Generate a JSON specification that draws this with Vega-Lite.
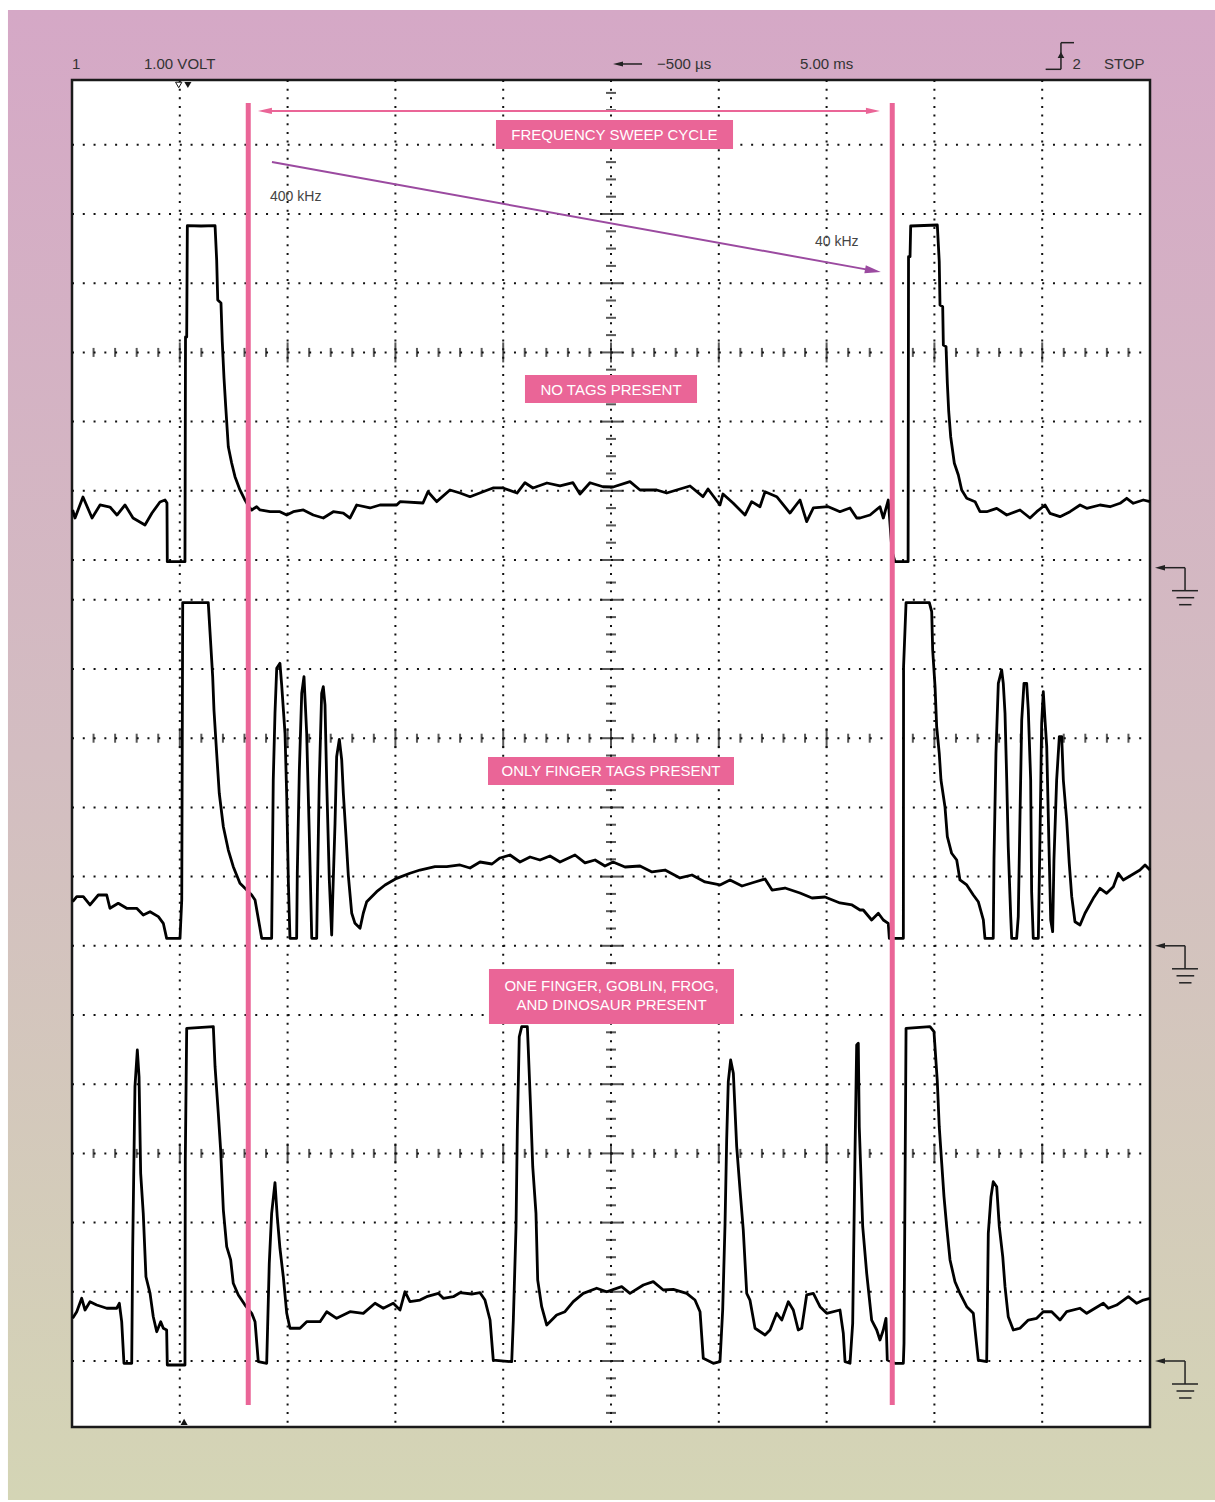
{
"$schema": "https://vega.github.io/schema/vega-lite/v6.json",
"width": 1078, "height": 1347,
"autosize": {"type": "none"},
"padding": {"left": 72, "top": 80, "right": 65, "bottom": 75},
"background": "#ffffff",
"config": {"view": {"stroke": null}},
"data": {"values": [{}]},
"datasets": {
"vg": [{"v":1},{"v":2},{"v":3},{"v":4},{"v":5},{"v":6},{"v":7},{"v":8},{"v":9}],
"hg": [{"v":0},{"v":1},{"v":2},{"v":3},{"v":4},{"v":5},{"v":6},{"v":7},{"v":8},{"v":9},{"v":10},{"v":11},{"v":11.575},{"v":12.575},{"v":13.575},{"v":14.575},{"v":15.575},{"v":16.575},{"v":17.575}],
"tx": [{"v":0.2},{"v":0.4},{"v":0.6},{"v":0.8},{"v":1.2},{"v":1.4},{"v":1.6},{"v":1.8},{"v":2.2},{"v":2.4},{"v":2.6},{"v":2.8},{"v":3.2},{"v":3.4},{"v":3.6},{"v":3.8},{"v":4.2},{"v":4.4},{"v":4.6},{"v":4.8},{"v":5.2},{"v":5.4},{"v":5.6},{"v":5.8},{"v":6.2},{"v":6.4},{"v":6.6},{"v":6.8},{"v":7.2},{"v":7.4},{"v":7.6},{"v":7.8},{"v":8.2},{"v":8.4},{"v":8.6},{"v":8.8},{"v":9.2},{"v":9.4},{"v":9.6},{"v":9.8}],
"ty": [{"v":-0.75},{"v":-0.5},{"v":-0.25},{"v":0.25},{"v":0.5},{"v":0.75},{"v":1.25},{"v":1.5},{"v":1.75},{"v":2.25},{"v":2.5},{"v":2.75},{"v":3.25},{"v":3.5},{"v":3.75},{"v":4.25},{"v":4.5},{"v":4.75},{"v":5.25},{"v":5.5},{"v":5.75},{"v":6.25},{"v":6.5},{"v":6.75},{"v":7.25},{"v":7.5},{"v":7.75},{"v":8.25},{"v":8.5},{"v":8.75},{"v":9.25},{"v":9.5},{"v":9.75},{"v":10.25},{"v":10.5},{"v":10.75},{"v":11.25},{"v":11.825},{"v":12.075},{"v":12.325},{"v":12.825},{"v":13.075},{"v":13.325},{"v":13.825},{"v":14.075},{"v":14.325},{"v":14.825},{"v":15.075},{"v":15.325},{"v":15.825},{"v":16.075},{"v":16.325},{"v":16.825},{"v":17.075},{"v":17.325},{"v":17.825},{"v":18.075},{"v":18.325}],
"gnd": [{"g":11.464},{"g":6},{"g":0}],
"t1": [{"x":0.006,"y":12.298},{"x":0.028,"y":12.182},{"x":0.102,"y":12.486},{"x":0.186,"y":12.182},{"x":0.26,"y":12.37},{"x":0.352,"y":12.341},{"x":0.417,"y":12.225},{"x":0.492,"y":12.37},{"x":0.566,"y":12.182},{"x":0.677,"y":12.081},{"x":0.742,"y":12.254},{"x":0.816,"y":12.413},{"x":0.863,"y":12.442},{"x":0.881,"y":12.399},{"x":0.884,"y":11.551},{"x":1.048,"y":11.551},{"x":1.053,"y":14.798},{"x":1.064,"y":14.798},{"x":1.07,"y":16.406},{"x":1.197,"y":16.402},{"x":1.327,"y":16.406},{"x":1.342,"y":15.91},{"x":1.352,"y":15.332},{"x":1.382,"y":15.289},{"x":1.394,"y":14.73},{"x":1.41,"y":14.205},{"x":1.426,"y":13.791},{"x":1.45,"y":13.212},{"x":1.481,"y":12.977},{"x":1.512,"y":12.779},{"x":1.558,"y":12.587},{"x":1.605,"y":12.442},{"x":1.642,"y":12.341},{"x":1.667,"y":12.298},{"x":1.713,"y":12.345},{"x":1.744,"y":12.298},{"x":1.837,"y":12.273},{"x":1.929,"y":12.273},{"x":1.992,"y":12.225},{"x":2.053,"y":12.273},{"x":2.146,"y":12.298},{"x":2.238,"y":12.225},{"x":2.331,"y":12.182},{"x":2.424,"y":12.273},{"x":2.517,"y":12.254},{"x":2.579,"y":12.182},{"x":2.641,"y":12.37},{"x":2.764,"y":12.327},{"x":2.857,"y":12.37},{"x":3.012,"y":12.37},{"x":3.043,"y":12.418},{"x":3.256,"y":12.399},{"x":3.302,"y":12.562},{"x":3.383,"y":12.418},{"x":3.506,"y":12.587},{"x":3.599,"y":12.543},{"x":3.692,"y":12.49},{"x":3.813,"y":12.562},{"x":3.905,"y":12.616},{"x":3.998,"y":12.616},{"x":4.128,"y":12.543},{"x":4.202,"y":12.692},{"x":4.276,"y":12.616},{"x":4.406,"y":12.688},{"x":4.527,"y":12.645},{"x":4.647,"y":12.692},{"x":4.712,"y":12.529},{"x":4.805,"y":12.692},{"x":4.926,"y":12.634},{"x":5.019,"y":12.63},{"x":5.176,"y":12.707},{"x":5.269,"y":12.587},{"x":5.424,"y":12.587},{"x":5.517,"y":12.543},{"x":5.609,"y":12.587},{"x":5.733,"y":12.645},{"x":5.853,"y":12.49},{"x":5.9,"y":12.601},{"x":6.011,"y":12.37},{"x":6.039,"y":12.529},{"x":6.132,"y":12.399},{"x":6.243,"y":12.225},{"x":6.305,"y":12.418},{"x":6.382,"y":12.345},{"x":6.429,"y":12.562},{"x":6.537,"y":12.49},{"x":6.66,"y":12.254},{"x":6.753,"y":12.442},{"x":6.815,"y":12.129},{"x":6.877,"y":12.327},{"x":7.016,"y":12.345},{"x":7.124,"y":12.273},{"x":7.217,"y":12.327},{"x":7.279,"y":12.182},{"x":7.31,"y":12.182},{"x":7.403,"y":12.225},{"x":7.495,"y":12.345},{"x":7.526,"y":12.182},{"x":7.572,"y":12.442},{"x":7.607,"y":11.7},{"x":7.634,"y":11.551},{"x":7.756,"y":11.551},{"x":7.76,"y":15.958},{"x":7.774,"y":15.958},{"x":7.78,"y":16.402},{"x":8.027,"y":16.416},{"x":8.045,"y":15.886},{"x":8.052,"y":15.26},{"x":8.077,"y":15.236},{"x":8.083,"y":14.682},{"x":8.108,"y":14.658},{"x":8.12,"y":14.129},{"x":8.133,"y":13.718},{"x":8.151,"y":13.357},{"x":8.185,"y":12.973},{"x":8.222,"y":12.804},{"x":8.253,"y":12.587},{"x":8.3,"y":12.467},{"x":8.377,"y":12.418},{"x":8.423,"y":12.273},{"x":8.485,"y":12.273},{"x":8.578,"y":12.322},{"x":8.671,"y":12.225},{"x":8.794,"y":12.298},{"x":8.887,"y":12.182},{"x":8.949,"y":12.273},{"x":9.026,"y":12.37},{"x":9.072,"y":12.25},{"x":9.165,"y":12.201},{"x":9.258,"y":12.273},{"x":9.351,"y":12.37},{"x":9.413,"y":12.322},{"x":9.536,"y":12.37},{"x":9.629,"y":12.345},{"x":9.722,"y":12.395},{"x":9.784,"y":12.467},{"x":9.845,"y":12.395},{"x":9.938,"y":12.442},{"x":10,"y":12.418}],
"t2": [{"x":0.006,"y":6.637},{"x":0.044,"y":6.71},{"x":0.105,"y":6.71},{"x":0.167,"y":6.59},{"x":0.244,"y":6.734},{"x":0.322,"y":6.734},{"x":0.352,"y":6.542},{"x":0.429,"y":6.614},{"x":0.507,"y":6.542},{"x":0.6,"y":6.542},{"x":0.661,"y":6.445},{"x":0.724,"y":6.493},{"x":0.801,"y":6.421},{"x":0.847,"y":6.325},{"x":0.878,"y":6.108},{"x":1.002,"y":6.108},{"x":1.018,"y":6.662},{"x":1.027,"y":10.958},{"x":1.264,"y":10.958},{"x":1.28,"y":10.539},{"x":1.305,"y":9.889},{"x":1.317,"y":9.408},{"x":1.342,"y":8.782},{"x":1.366,"y":8.204},{"x":1.404,"y":7.721},{"x":1.45,"y":7.384},{"x":1.496,"y":7.143},{"x":1.558,"y":6.903},{"x":1.605,"y":6.831},{"x":1.667,"y":6.734},{"x":1.698,"y":6.662},{"x":1.76,"y":6.108},{"x":1.852,"y":6.108},{"x":1.867,"y":8.396},{"x":1.883,"y":9.36},{"x":1.899,"y":10.01},{"x":1.929,"y":10.082},{"x":1.945,"y":9.769},{"x":1.976,"y":9.071},{"x":1.992,"y":8.155},{"x":2.007,"y":6.926},{"x":2.022,"y":6.108},{"x":2.084,"y":6.108},{"x":2.09,"y":7.048},{"x":2.109,"y":8.541},{"x":2.131,"y":9.649},{"x":2.152,"y":9.889},{"x":2.177,"y":9.071},{"x":2.201,"y":7.626},{"x":2.224,"y":6.108},{"x":2.27,"y":6.108},{"x":2.276,"y":6.759},{"x":2.294,"y":8.396},{"x":2.316,"y":9.649},{"x":2.331,"y":9.744},{"x":2.347,"y":9.48},{"x":2.363,"y":8.348},{"x":2.387,"y":6.951},{"x":2.409,"y":6.156},{"x":2.418,"y":6.662},{"x":2.44,"y":7.77},{"x":2.455,"y":8.733},{"x":2.48,"y":8.984},{"x":2.502,"y":8.685},{"x":2.517,"y":8.204},{"x":2.542,"y":7.577},{"x":2.563,"y":7.023},{"x":2.595,"y":6.47},{"x":2.625,"y":6.325},{"x":2.672,"y":6.253},{"x":2.702,"y":6.47},{"x":2.734,"y":6.637},{"x":2.826,"y":6.782},{"x":2.904,"y":6.879},{"x":3.012,"y":6.975},{"x":3.135,"y":7.048},{"x":3.228,"y":7.095},{"x":3.367,"y":7.143},{"x":3.476,"y":7.143},{"x":3.599,"y":7.168},{"x":3.692,"y":7.124},{"x":3.785,"y":7.211},{"x":3.896,"y":7.182},{"x":3.97,"y":7.269},{"x":4.063,"y":7.312},{"x":4.156,"y":7.211},{"x":4.249,"y":7.283},{"x":4.341,"y":7.24},{"x":4.434,"y":7.298},{"x":4.527,"y":7.211},{"x":4.666,"y":7.312},{"x":4.759,"y":7.197},{"x":4.852,"y":7.24},{"x":4.944,"y":7.153},{"x":5.019,"y":7.211},{"x":5.13,"y":7.139},{"x":5.269,"y":7.153},{"x":5.38,"y":7.067},{"x":5.501,"y":7.095},{"x":5.64,"y":6.98},{"x":5.751,"y":7.023},{"x":5.872,"y":6.922},{"x":6.011,"y":6.879},{"x":6.104,"y":6.951},{"x":6.215,"y":6.864},{"x":6.336,"y":6.922},{"x":6.429,"y":6.965},{"x":6.494,"y":6.806},{"x":6.614,"y":6.835},{"x":6.753,"y":6.763},{"x":6.865,"y":6.691},{"x":6.985,"y":6.705},{"x":7.124,"y":6.619},{"x":7.236,"y":6.59},{"x":7.31,"y":6.517},{"x":7.34,"y":6.517},{"x":7.418,"y":6.373},{"x":7.48,"y":6.47},{"x":7.526,"y":6.373},{"x":7.572,"y":6.325},{"x":7.582,"y":6.108},{"x":7.712,"y":6.108},{"x":7.714,"y":10.033},{"x":7.737,"y":10.958},{"x":7.953,"y":10.958},{"x":7.975,"y":10.828},{"x":7.984,"y":10.275},{"x":8.006,"y":9.744},{"x":8.021,"y":9.166},{"x":8.045,"y":8.782},{"x":8.061,"y":8.396},{"x":8.098,"y":8.01},{"x":8.12,"y":7.577},{"x":8.16,"y":7.337},{"x":8.207,"y":7.24},{"x":8.237,"y":6.951},{"x":8.3,"y":6.879},{"x":8.361,"y":6.734},{"x":8.407,"y":6.637},{"x":8.454,"y":6.373},{"x":8.469,"y":6.108},{"x":8.546,"y":6.108},{"x":8.553,"y":7.264},{"x":8.571,"y":8.782},{"x":8.593,"y":9.793},{"x":8.624,"y":9.986},{"x":8.639,"y":9.793},{"x":8.655,"y":9.36},{"x":8.671,"y":8.396},{"x":8.685,"y":7.432},{"x":8.708,"y":6.421},{"x":8.717,"y":6.108},{"x":8.763,"y":6.108},{"x":8.778,"y":6.421},{"x":8.794,"y":7.866},{"x":8.81,"y":9.263},{"x":8.831,"y":9.793},{"x":8.856,"y":9.793},{"x":8.871,"y":9.408},{"x":8.893,"y":8.396},{"x":8.902,"y":6.782},{"x":8.917,"y":6.108},{"x":8.964,"y":6.108},{"x":8.98,"y":7.626},{"x":8.995,"y":9.215},{"x":9.01,"y":9.672},{"x":9.026,"y":9.263},{"x":9.042,"y":8.877},{"x":9.063,"y":7.432},{"x":9.079,"y":6.373},{"x":9.097,"y":6.204},{"x":9.109,"y":7.24},{"x":9.134,"y":8.396},{"x":9.159,"y":9.022},{"x":9.181,"y":9.022},{"x":9.196,"y":8.396},{"x":9.227,"y":7.818},{"x":9.251,"y":7.192},{"x":9.274,"y":6.71},{"x":9.304,"y":6.348},{"x":9.351,"y":6.301},{"x":9.397,"y":6.47},{"x":9.474,"y":6.686},{"x":9.536,"y":6.831},{"x":9.598,"y":6.759},{"x":9.66,"y":6.854},{"x":9.706,"y":7.048},{"x":9.752,"y":6.951},{"x":9.83,"y":7.023},{"x":9.907,"y":7.095},{"x":9.954,"y":7.168},{"x":10,"y":7.095}],
"t3": [{"x":0.006,"y":0.617},{"x":0.044,"y":0.712},{"x":0.09,"y":0.906},{"x":0.121,"y":0.737},{"x":0.167,"y":0.857},{"x":0.229,"y":0.809},{"x":0.322,"y":0.762},{"x":0.415,"y":0.762},{"x":0.439,"y":0.834},{"x":0.461,"y":0.568},{"x":0.482,"y":-0.033},{"x":0.554,"y":-0.033},{"x":0.563,"y":1.629},{"x":0.584,"y":3.964},{"x":0.606,"y":4.494},{"x":0.622,"y":4.108},{"x":0.637,"y":2.712},{"x":0.661,"y":2.134},{"x":0.686,"y":1.218},{"x":0.724,"y":0.978},{"x":0.754,"y":0.64},{"x":0.786,"y":0.423},{"x":0.823,"y":0.568},{"x":0.847,"y":0.473},{"x":0.878,"y":0.448},{"x":0.884,"y":-0.058},{"x":1.048,"y":-0.058},{"x":1.051,"y":2.905},{"x":1.064,"y":4.808},{"x":1.311,"y":4.831},{"x":1.327,"y":4.253},{"x":1.357,"y":3.58},{"x":1.379,"y":3.049},{"x":1.404,"y":2.182},{"x":1.435,"y":1.652},{"x":1.472,"y":1.46},{"x":1.496,"y":1.123},{"x":1.543,"y":0.954},{"x":1.605,"y":0.809},{"x":1.667,"y":0.689},{"x":1.698,"y":0.568},{"x":1.728,"y":-0.01},{"x":1.806,"y":-0.033},{"x":1.83,"y":1.412},{"x":1.852,"y":2.134},{"x":1.883,"y":2.577},{"x":1.904,"y":2.085},{"x":1.929,"y":1.629},{"x":1.96,"y":1.218},{"x":1.992,"y":0.689},{"x":2.022,"y":0.473},{"x":2.115,"y":0.473},{"x":2.177,"y":0.568},{"x":2.301,"y":0.568},{"x":2.363,"y":0.712},{"x":2.455,"y":0.617},{"x":2.579,"y":0.712},{"x":2.702,"y":0.689},{"x":2.811,"y":0.834},{"x":2.888,"y":0.762},{"x":2.98,"y":0.834},{"x":3.043,"y":0.737},{"x":3.089,"y":1.001},{"x":3.135,"y":0.857},{"x":3.228,"y":0.881},{"x":3.29,"y":0.929},{"x":3.398,"y":0.978},{"x":3.444,"y":0.906},{"x":3.537,"y":0.929},{"x":3.599,"y":0.987},{"x":3.708,"y":0.968},{"x":3.785,"y":0.987},{"x":3.831,"y":0.881},{"x":3.878,"y":0.592},{"x":3.908,"y":0.014},{"x":4.079,"y":-0.01},{"x":4.094,"y":0.592},{"x":4.119,"y":1.941},{"x":4.131,"y":3.338},{"x":4.149,"y":4.686},{"x":4.172,"y":4.831},{"x":4.224,"y":4.831},{"x":4.233,"y":4.494},{"x":4.255,"y":3.627},{"x":4.274,"y":2.808},{"x":4.304,"y":2.134},{"x":4.32,"y":1.171},{"x":4.357,"y":0.785},{"x":4.404,"y":0.52},{"x":4.496,"y":0.665},{"x":4.573,"y":0.712},{"x":4.65,"y":0.857},{"x":4.743,"y":0.978},{"x":4.867,"y":1.051},{"x":4.96,"y":1.001},{"x":5.099,"y":1.074},{"x":5.176,"y":0.978},{"x":5.3,"y":1.098},{"x":5.392,"y":1.146},{"x":5.485,"y":1.026},{"x":5.578,"y":1.036},{"x":5.702,"y":0.978},{"x":5.779,"y":0.881},{"x":5.826,"y":0.712},{"x":5.856,"y":0.039},{"x":5.949,"y":-0.033},{"x":6.011,"y":-0.01},{"x":6.036,"y":0.737},{"x":6.058,"y":1.99},{"x":6.073,"y":3.194},{"x":6.088,"y":4.036},{"x":6.11,"y":4.35},{"x":6.135,"y":4.158},{"x":6.166,"y":3.097},{"x":6.197,"y":2.471},{"x":6.227,"y":1.893},{"x":6.259,"y":0.978},{"x":6.289,"y":0.881},{"x":6.336,"y":0.473},{"x":6.429,"y":0.376},{"x":6.475,"y":0.448},{"x":6.537,"y":0.689},{"x":6.584,"y":0.592},{"x":6.645,"y":0.857},{"x":6.691,"y":0.737},{"x":6.737,"y":0.448},{"x":6.769,"y":0.473},{"x":6.815,"y":0.954},{"x":6.877,"y":0.978},{"x":6.939,"y":0.785},{"x":7.001,"y":0.689},{"x":7.124,"y":0.737},{"x":7.155,"y":0.4},{"x":7.171,"y":-0.01},{"x":7.217,"y":-0.033},{"x":7.242,"y":0.545},{"x":7.263,"y":2.952},{"x":7.279,"y":4.566},{"x":7.294,"y":4.591},{"x":7.303,"y":3.386},{"x":7.335,"y":1.941},{"x":7.372,"y":1.267},{"x":7.418,"y":0.592},{"x":7.465,"y":0.448},{"x":7.495,"y":0.303},{"x":7.526,"y":0.448},{"x":7.551,"y":0.617},{"x":7.563,"y":0.014},{"x":7.634,"y":-0.033},{"x":7.712,"y":-0.033},{"x":7.718,"y":0.256},{"x":7.737,"y":4.808},{"x":7.959,"y":4.831},{"x":7.996,"y":4.759},{"x":8.027,"y":4.036},{"x":8.045,"y":3.386},{"x":8.068,"y":2.857},{"x":8.089,"y":2.374},{"x":8.114,"y":1.941},{"x":8.145,"y":1.46},{"x":8.191,"y":1.146},{"x":8.237,"y":0.978},{"x":8.3,"y":0.785},{"x":8.361,"y":0.689},{"x":8.407,"y":0.014},{"x":8.485,"y":-0.01},{"x":8.5,"y":1.845},{"x":8.525,"y":2.374},{"x":8.546,"y":2.591},{"x":8.578,"y":2.519},{"x":8.602,"y":1.941},{"x":8.634,"y":1.507},{"x":8.655,"y":1.074},{"x":8.685,"y":0.64},{"x":8.732,"y":0.448},{"x":8.794,"y":0.473},{"x":8.871,"y":0.592},{"x":8.949,"y":0.617},{"x":9.01,"y":0.712},{"x":9.088,"y":0.712},{"x":9.165,"y":0.592},{"x":9.227,"y":0.712},{"x":9.351,"y":0.762},{"x":9.413,"y":0.689},{"x":9.567,"y":0.834},{"x":9.613,"y":0.762},{"x":9.691,"y":0.809},{"x":9.799,"y":0.929},{"x":9.877,"y":0.834},{"x":9.938,"y":0.881},{"x":10,"y":0.906}]
},
"layer": [
{"mark": {"type": "rect", "fill": {"gradient": "linear", "x1": 0, "y1": 0, "x2": 0, "y2": 1, "stops": [{"offset": 0, "color": "#d5a8c6"}, {"offset": 0.5, "color": "#d3bdc1"}, {"offset": 1, "color": "#d4d5b5"}]}},
 "encoding": {"x": {"datum": -0.594, "type": "quantitative", "axis": null}, "x2": {"datum": 10.603}, "y": {"datum": 19.523, "type": "quantitative", "axis": null}, "y2": {"datum": -2.009}}},
{"mark": {"type": "rect", "fill": "#ffffff", "stroke": "#1a1a1a", "strokeWidth": 2.5},
 "encoding": {"x": {"datum": 0, "type": "quantitative", "axis": null}, "x2": {"datum": 10}, "y": {"datum": -0.9538, "type": "quantitative", "axis": null}, "y2": {"datum": 18.5116}}},
{"data": {"name": "vg"}, "mark": {"type": "rule", "color": "#111111", "strokeWidth": 2, "strokeDash": [2, 6.65]},
 "encoding": {"x": {"field": "v", "type": "quantitative", "axis": null}, "y": {"datum": 18.5116, "type": "quantitative", "axis": null}, "y2": {"datum": -0.9538}}},
{"data": {"name": "hg"}, "mark": {"type": "rule", "color": "#111111", "strokeWidth": 2, "strokeDash": [2, 8.78]},
 "encoding": {"y": {"field": "v", "type": "quantitative", "axis": null}, "x": {"datum": 0, "type": "quantitative", "axis": null}, "x2": {"datum": 10}}},
{"data": {"name": "tx"}, "mark": {"type": "tick", "orient": "vertical", "color": "#111111", "thickness": 2},
 "encoding": {"x": {"field": "v", "type": "quantitative", "axis": null}, "y": {"datum": 14.575, "type": "quantitative", "axis": null}, "size": {"value": 9}}},
{"data": {"name": "tx"}, "mark": {"type": "tick", "orient": "vertical", "color": "#111111", "thickness": 2},
 "encoding": {"x": {"field": "v", "type": "quantitative", "axis": null}, "y": {"datum": 9, "type": "quantitative", "axis": null}, "size": {"value": 9}}},
{"data": {"name": "tx"}, "mark": {"type": "tick", "orient": "vertical", "color": "#111111", "thickness": 2},
 "encoding": {"x": {"field": "v", "type": "quantitative", "axis": null}, "y": {"datum": 3, "type": "quantitative", "axis": null}, "size": {"value": 9}}},
{"data": {"name": "vg"}, "mark": {"type": "tick", "orient": "vertical", "color": "#111111", "thickness": 2},
 "encoding": {"x": {"field": "v", "type": "quantitative", "axis": null}, "y": {"datum": 14.575, "type": "quantitative", "axis": null}, "size": {"value": 20}}},
{"data": {"name": "vg"}, "mark": {"type": "tick", "orient": "vertical", "color": "#111111", "thickness": 2},
 "encoding": {"x": {"field": "v", "type": "quantitative", "axis": null}, "y": {"datum": 9, "type": "quantitative", "axis": null}, "size": {"value": 20}}},
{"data": {"name": "vg"}, "mark": {"type": "tick", "orient": "vertical", "color": "#111111", "thickness": 2},
 "encoding": {"x": {"field": "v", "type": "quantitative", "axis": null}, "y": {"datum": 3, "type": "quantitative", "axis": null}, "size": {"value": 20}}},
{"data": {"name": "ty"}, "mark": {"type": "tick", "orient": "horizontal", "color": "#111111", "thickness": 2},
 "encoding": {"y": {"field": "v", "type": "quantitative", "axis": null}, "x": {"datum": 5, "type": "quantitative", "axis": null}, "size": {"value": 10}}},
{"data": {"name": "hg"}, "mark": {"type": "tick", "orient": "horizontal", "color": "#111111", "thickness": 2},
 "encoding": {"y": {"field": "v", "type": "quantitative", "axis": null}, "x": {"datum": 5, "type": "quantitative", "axis": null}, "size": {"value": 22}}},
{"data": {"name": "t1"}, "mark": {"type": "line", "color": "#000000", "strokeWidth": 2.8, "strokeJoin": "round"},
 "encoding": {"x": {"field": "x", "type": "quantitative", "scale": {"domain": [0, 10], "nice": false, "zero": false}, "axis": null}, "y": {"field": "y", "type": "quantitative", "scale": {"domain": [-0.9538, 18.5116], "nice": false, "zero": false}, "axis": null}}},
{"data": {"name": "t2"}, "mark": {"type": "line", "color": "#000000", "strokeWidth": 2.8, "strokeJoin": "round"},
 "encoding": {"x": {"field": "x", "type": "quantitative", "scale": {"domain": [0, 10], "nice": false, "zero": false}, "axis": null}, "y": {"field": "y", "type": "quantitative", "scale": {"domain": [-0.9538, 18.5116], "nice": false, "zero": false}, "axis": null}}},
{"data": {"name": "t3"}, "mark": {"type": "line", "color": "#000000", "strokeWidth": 2.8, "strokeJoin": "round"},
 "encoding": {"x": {"field": "x", "type": "quantitative", "scale": {"domain": [0, 10], "nice": false, "zero": false}, "axis": null}, "y": {"field": "y", "type": "quantitative", "scale": {"domain": [-0.9538, 18.5116], "nice": false, "zero": false}, "axis": null}}},
{"mark": {"type": "rule", "color": "#ea6597", "strokeWidth": 5},
 "encoding": {"x": {"datum": 1.635, "type": "quantitative", "axis": null}, "y": {"datum": 18.179, "type": "quantitative", "axis": null}, "y2": {"datum": -0.636}}},
{"mark": {"type": "rule", "color": "#ea6597", "strokeWidth": 5},
 "encoding": {"x": {"datum": 7.609, "type": "quantitative", "axis": null}, "y": {"datum": 18.179, "type": "quantitative", "axis": null}, "y2": {"datum": -0.636}}},
{"mark": {"type": "rule", "color": "#ea6597", "strokeWidth": 2},
 "encoding": {"x": {"datum": 1.79, "type": "quantitative", "axis": null}, "x2": {"datum": 7.43}, "y": {"datum": 18.064, "type": "quantitative", "axis": null}}},
{"mark": {"type": "point", "shape": "M-1,0L1,-0.45L1,0.45Z", "filled": true, "opacity": 1, "color": "#ea6597", "size": 196},
 "encoding": {"x": {"datum": 1.79, "type": "quantitative", "axis": null}, "y": {"datum": 18.064, "type": "quantitative", "axis": null}}},
{"mark": {"type": "point", "shape": "M1,0L-1,-0.45L-1,0.45Z", "filled": true, "opacity": 1, "color": "#ea6597", "size": 196},
 "encoding": {"x": {"datum": 7.43, "type": "quantitative", "axis": null}, "y": {"datum": 18.064, "type": "quantitative", "axis": null}}},
{"mark": {"type": "rect", "fill": "#ea6597"},
 "encoding": {"x": {"datum": 3.933, "type": "quantitative", "axis": null}, "x2": {"datum": 6.132}, "y": {"datum": 17.934, "type": "quantitative", "axis": null}, "y2": {"datum": 17.514}}},
{"mark": {"type": "rect", "fill": "#ea6597"},
 "encoding": {"x": {"datum": 4.202, "type": "quantitative", "axis": null}, "x2": {"datum": 5.798}, "y": {"datum": 14.249, "type": "quantitative", "axis": null}, "y2": {"datum": 13.844}}},
{"mark": {"type": "rect", "fill": "#ea6597"},
 "encoding": {"x": {"datum": 3.859, "type": "quantitative", "axis": null}, "x2": {"datum": 6.141}, "y": {"datum": 8.728, "type": "quantitative", "axis": null}, "y2": {"datum": 8.324}}},
{"mark": {"type": "rect", "fill": "#ea6597"},
 "encoding": {"x": {"datum": 3.868, "type": "quantitative", "axis": null}, "x2": {"datum": 6.141}, "y": {"datum": 5.665, "type": "quantitative", "axis": null}, "y2": {"datum": 4.87}}},
{"mark": {"type": "text", "text": "FREQUENCY SWEEP CYCLE", "font": "Liberation Sans", "fontSize": 15, "color": "#ffffff", "align": "center", "baseline": "middle"},
 "encoding": {"x": {"datum": 5.032, "type": "quantitative", "axis": null}, "y": {"datum": 17.717, "type": "quantitative", "axis": null}}},
{"mark": {"type": "text", "text": "NO TAGS PRESENT", "font": "Liberation Sans", "fontSize": 15, "color": "#ffffff", "align": "center", "baseline": "middle"},
 "encoding": {"x": {"datum": 5.0, "type": "quantitative", "axis": null}, "y": {"datum": 14.032, "type": "quantitative", "axis": null}}},
{"mark": {"type": "text", "text": "ONLY FINGER TAGS PRESENT", "font": "Liberation Sans", "fontSize": 15, "color": "#ffffff", "align": "center", "baseline": "middle"},
 "encoding": {"x": {"datum": 5.0, "type": "quantitative", "axis": null}, "y": {"datum": 8.526, "type": "quantitative", "axis": null}}},
{"mark": {"type": "text", "text": "ONE FINGER, GOBLIN, FROG,", "font": "Liberation Sans", "fontSize": 15, "color": "#ffffff", "align": "center", "baseline": "middle"},
 "encoding": {"x": {"datum": 5.005, "type": "quantitative", "axis": null}, "y": {"datum": 5.419, "type": "quantitative", "axis": null}}},
{"mark": {"type": "text", "text": "AND DINOSAUR PRESENT", "font": "Liberation Sans", "fontSize": 15, "color": "#ffffff", "align": "center", "baseline": "middle"},
 "encoding": {"x": {"datum": 5.005, "type": "quantitative", "axis": null}, "y": {"datum": 5.145, "type": "quantitative", "axis": null}}},
{"mark": {"type": "rule", "color": "#9b4aa0", "strokeWidth": 2},
 "encoding": {"x": {"datum": 1.855, "type": "quantitative", "axis": null}, "x2": {"datum": 7.43}, "y": {"datum": 17.327, "type": "quantitative", "axis": null}, "y2": {"datum": 15.757}}},
{"mark": {"type": "point", "shape": "M1,0L-1,-0.5L-1,0.5Z", "filled": true, "opacity": 1, "color": "#9b4aa0", "size": 256, "angle": 10.25},
 "encoding": {"x": {"datum": 7.43, "type": "quantitative", "axis": null}, "y": {"datum": 15.757, "type": "quantitative", "axis": null}}},
{"mark": {"type": "text", "text": "400 kHz", "font": "Liberation Sans", "fontSize": 14, "color": "#444444", "align": "left", "baseline": "middle"},
 "encoding": {"x": {"datum": 1.837, "type": "quantitative", "axis": null}, "y": {"datum": 16.821, "type": "quantitative", "axis": null}}},
{"mark": {"type": "text", "text": "40 kHz", "font": "Liberation Sans", "fontSize": 14, "color": "#444444", "align": "left", "baseline": "middle"},
 "encoding": {"x": {"datum": 6.892, "type": "quantitative", "axis": null}, "y": {"datum": 16.171, "type": "quantitative", "axis": null}}},
{"mark": {"type": "text", "text": "1", "font": "Liberation Sans", "fontSize": 15, "color": "#333333", "align": "left", "baseline": "middle"},
 "encoding": {"x": {"datum": 0.0, "type": "quantitative", "axis": null}, "y": {"datum": 18.743, "type": "quantitative", "axis": null}}},
{"mark": {"type": "text", "text": "1.00 VOLT", "font": "Liberation Sans", "fontSize": 15, "color": "#333333", "align": "left", "baseline": "middle"},
 "encoding": {"x": {"datum": 0.668, "type": "quantitative", "axis": null}, "y": {"datum": 18.743, "type": "quantitative", "axis": null}}},
{"mark": {"type": "text", "text": "−500 µs", "font": "Liberation Sans", "fontSize": 15, "color": "#333333", "align": "left", "baseline": "middle"},
 "encoding": {"x": {"datum": 5.427, "type": "quantitative", "axis": null}, "y": {"datum": 18.743, "type": "quantitative", "axis": null}}},
{"mark": {"type": "text", "text": "5.00 ms", "font": "Liberation Sans", "fontSize": 15, "color": "#333333", "align": "left", "baseline": "middle"},
 "encoding": {"x": {"datum": 6.753, "type": "quantitative", "axis": null}, "y": {"datum": 18.743, "type": "quantitative", "axis": null}}},
{"mark": {"type": "text", "text": "2", "font": "Liberation Sans", "fontSize": 15, "color": "#333333", "align": "left", "baseline": "middle"},
 "encoding": {"x": {"datum": 9.28, "type": "quantitative", "axis": null}, "y": {"datum": 18.743, "type": "quantitative", "axis": null}}},
{"mark": {"type": "text", "text": "STOP", "font": "Liberation Sans", "fontSize": 15, "color": "#333333", "align": "left", "baseline": "middle"},
 "encoding": {"x": {"datum": 9.573, "type": "quantitative", "axis": null}, "y": {"datum": 18.743, "type": "quantitative", "axis": null}}},
{"mark": {"type": "rule", "color": "#222222", "strokeWidth": 1.5},
 "encoding": {"x": {"datum": 5.065, "type": "quantitative", "axis": null}, "x2": {"datum": 5.288}, "y": {"datum": 18.743, "type": "quantitative", "axis": null}}},
{"mark": {"type": "point", "shape": "M-1,0L1,-0.5L1,0.5Z", "filled": true, "opacity": 1, "color": "#222222", "size": 100},
 "encoding": {"x": {"datum": 5.065, "type": "quantitative", "axis": null}, "y": {"datum": 18.743, "type": "quantitative", "axis": null}}},
{"mark": {"type": "rule", "color": "#222222", "strokeWidth": 1.5},
 "encoding": {"x": {"datum": 9.032, "type": "quantitative", "axis": null}, "x2": {"datum": 9.174}, "y": {"datum": 18.666, "type": "quantitative", "axis": null}}},
{"mark": {"type": "rule", "color": "#222222", "strokeWidth": 1.5},
 "encoding": {"x": {"datum": 9.174, "type": "quantitative", "axis": null}, "y": {"datum": 18.666, "type": "quantitative", "axis": null}, "y2": {"datum": 19.051}}},
{"mark": {"type": "rule", "color": "#222222", "strokeWidth": 1.5},
 "encoding": {"x": {"datum": 9.174, "type": "quantitative", "axis": null}, "x2": {"datum": 9.295}, "y": {"datum": 19.051, "type": "quantitative", "axis": null}}},
{"mark": {"type": "point", "shape": "triangle-up", "filled": true, "opacity": 1, "color": "#222222", "size": 45},
 "encoding": {"x": {"datum": 9.174, "type": "quantitative", "axis": null}, "y": {"datum": 18.873, "type": "quantitative", "axis": null}}},
{"data": {"name": "gnd"}, "mark": {"type": "rule", "color": "#222222", "strokeWidth": 1.5},
 "encoding": {"x": {"datum": 10.093, "type": "quantitative", "axis": null}, "x2": {"datum": 10.325}, "y": {"field": "g", "type": "quantitative", "axis": null}}},
{"data": {"name": "gnd"}, "mark": {"type": "point", "shape": "M-1,0L1,-0.55L1,0.55Z", "filled": true, "opacity": 1, "color": "#222222", "size": 100},
 "encoding": {"x": {"datum": 10.093, "type": "quantitative", "axis": null}, "y": {"field": "g", "type": "quantitative", "axis": null}}},
{"data": {"name": "gnd"}, "mark": {"type": "rule", "color": "#222222", "strokeWidth": 1.5, "y2Offset": 23},
 "encoding": {"x": {"datum": 10.325, "type": "quantitative", "axis": null}, "y": {"field": "g", "type": "quantitative", "axis": null}, "y2": {"field": "g"}}},
{"data": {"name": "gnd"}, "mark": {"type": "rule", "color": "#222222", "strokeWidth": 1.5, "yOffset": 23},
 "encoding": {"x": {"datum": 10.204, "type": "quantitative", "axis": null}, "x2": {"datum": 10.445}, "y": {"field": "g", "type": "quantitative", "axis": null}}},
{"data": {"name": "gnd"}, "mark": {"type": "rule", "color": "#222222", "strokeWidth": 1.5, "yOffset": 30},
 "encoding": {"x": {"datum": 10.246, "type": "quantitative", "axis": null}, "x2": {"datum": 10.41}, "y": {"field": "g", "type": "quantitative", "axis": null}}},
{"data": {"name": "gnd"}, "mark": {"type": "rule", "color": "#222222", "strokeWidth": 1.5, "yOffset": 37},
 "encoding": {"x": {"datum": 10.27, "type": "quantitative", "axis": null}, "x2": {"datum": 10.385}, "y": {"field": "g", "type": "quantitative", "axis": null}}},
{"mark": {"type": "point", "shape": "triangle-down", "filled": true, "opacity": 1, "color": "#111111", "size": 50},
 "encoding": {"x": {"datum": 1.075, "type": "quantitative", "axis": null}, "y": {"datum": 18.44, "type": "quantitative", "axis": null}}},
{"mark": {"type": "point", "shape": "triangle-down", "filled": false, "opacity": 1, "color": "#111111", "size": 40, "strokeWidth": 1},
 "encoding": {"x": {"datum": 0.99, "type": "quantitative", "axis": null}, "y": {"datum": 18.44, "type": "quantitative", "axis": null}}},
{"mark": {"type": "point", "shape": "triangle-up", "filled": true, "opacity": 1, "color": "#111111", "size": 50},
 "encoding": {"x": {"datum": 1.04, "type": "quantitative", "axis": null}, "y": {"datum": -0.88, "type": "quantitative", "axis": null}}}
]
}
